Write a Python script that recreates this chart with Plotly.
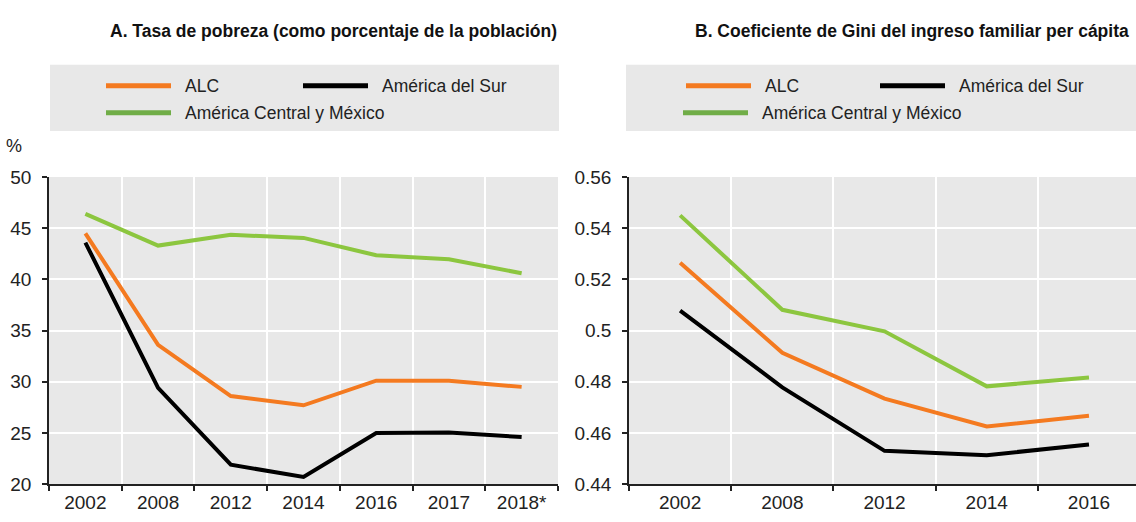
import plotly.graph_objects as go

# Panel A: poverty rate (% of population)
years_a = ["2002", "2008", "2012", "2014", "2016", "2017", "2018*"]
alc_a = [44.5, 33.6, 28.6, 27.7, 30.1, 30.1, 29.5]
sur_a = [43.6, 29.4, 21.9, 20.7, 25.0, 25.05, 24.6]
cam_a = [46.4, 43.3, 44.35, 44.05, 42.35, 41.97, 40.6]

# Panel B: Gini coefficient of per capita household income
years_b = ["2002", "2008", "2012", "2014", "2016"]
alc_b = [0.5265, 0.4913, 0.4734, 0.4625, 0.4667]
sur_b = [0.5078, 0.4778, 0.4530, 0.4513, 0.4555]
cam_b = [0.5450, 0.5081, 0.4997, 0.4782, 0.4817]

series_names = ["ALC", "América del Sur", "América Central y México"]
line_colors = ["#F47A20", "#000000", "#8CC63F"]
legend_colors = ["#F47A20", "#000000", "#70AD47"]

FONT = "Liberation Sans Narrow, Arial Narrow, Liberation Sans, Arial"
W, H = 1136, 522
BG = "#E8E8E8"


def px_x(v):
    return v / W


def px_y(v):
    return 1 - v / H


fig = go.Figure()

for vals, name, color in zip([alc_a, sur_a, cam_a], series_names, line_colors):
    fig.add_trace(go.Scatter(x=years_a, y=vals, name=name, mode="lines",
                             line=dict(color=color, width=4),
                             xaxis="x", yaxis="y", showlegend=False))

for vals, name, color in zip([alc_b, sur_b, cam_b], series_names, line_colors):
    fig.add_trace(go.Scatter(x=years_b, y=vals, name=name, mode="lines",
                             line=dict(color=color, width=4),
                             xaxis="x2", yaxis="y2", showlegend=False))

axis_common = dict(
    showline=True, linecolor="#222222", linewidth=1.5,
    ticks="outside", ticklen=5, tickcolor="#222222", tickwidth=1.5,
    showgrid=True, gridcolor="white", gridwidth=1.5,
    tickfont=dict(family=FONT, size=19, color="#222222"),
    zeroline=False, fixedrange=True,
)

y_dom = [px_y(494), px_y(174)]

fig.update_layout(
    width=W, height=H,
    margin=dict(l=0, r=0, t=0, b=0),
    paper_bgcolor="white",
    plot_bgcolor=BG,
    font=dict(family=FONT, size=18, color="#222222"),
    xaxis=dict(axis_common, type="category", domain=[px_x(49), px_x(558)],
               tickson="boundaries", range=[-0.5, 6.5], anchor="y"),
    yaxis=dict(axis_common, domain=y_dom, range=[20, 50], dtick=5,
               tick0=20, anchor="x", ticklabelstandoff=7),
    xaxis2=dict(axis_common, type="category", domain=[px_x(629), 1.0],
                tickson="boundaries", range=[-0.5, 4.46], anchor="y2"),
    yaxis2=dict(axis_common, domain=y_dom, range=[0.44, 0.56], dtick=0.02,
                tick0=0.44, anchor="x2", ticklabelstandoff=7),
)

# grey legend boxes
for x0, x1 in [(50, 559), (626, 1136)]:
    fig.add_shape(type="rect", xref="paper", yref="paper",
                  x0=px_x(x0), x1=px_x(x1), y0=px_y(126), y1=px_y(57),
                  fillcolor=BG, line=dict(width=0), layer="below")

# legend entries: (line start x, row y) per series for each panel
legend_pos = {
    "A": [(106, 79), (303, 79), (106, 107)],
    "B": [(686, 79), (880, 79), (683, 107)],
}
for panel, positions in legend_pos.items():
    for (lx, ly), name, color in zip(positions, series_names, legend_colors):
        fig.add_shape(type="line", xref="paper", yref="paper",
                      x0=px_x(lx), x1=px_x(lx + 65), y0=px_y(ly), y1=px_y(ly),
                      line=dict(color=color, width=5))
        fig.add_annotation(x=px_x(lx + 77), y=px_y(ly), xref="paper", yref="paper",
                           text=name, showarrow=False, xanchor="left",
                           yanchor="middle",
                           font=dict(family=FONT, size=17.5, color="#222222"))

# panel titles
titles = [
    ("A. Tasa de pobreza (como porcentaje de la población)", 559),
    ("B. Coeficiente de Gini del ingreso familiar per cápita", 1131),
]
for text, xr in titles:
    fig.add_annotation(x=px_x(xr), y=px_y(22), xref="paper", yref="paper",
                       text="<b>" + text + "</b>", showarrow=False,
                       xanchor="right", yanchor="middle",
                       font=dict(family=FONT, size=17.5, color="#111111"))

fig.add_annotation(x=px_x(14), y=px_y(142), xref="paper", yref="paper",
                   text="%", showarrow=False, xanchor="center", yanchor="middle",
                   font=dict(family=FONT, size=18, color="#222222"))

# remove the default page margin so the figure sits at the window's corner
fig.write_html("out.html", config={"displayModeBar": False},
               post_script="document.body.style.margin='0';")
